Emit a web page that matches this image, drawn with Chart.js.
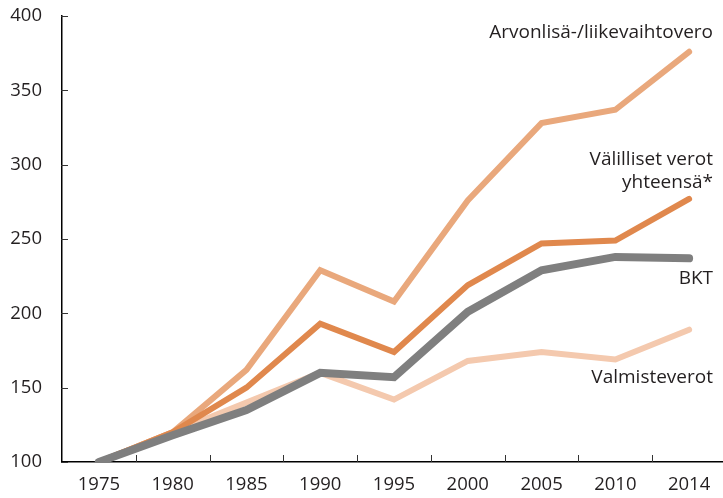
<!DOCTYPE html>
<html>
<head>
<meta charset="utf-8">
<script src="https://cdn.jsdelivr.net/npm/chart.js@4.4.0/dist/chart.umd.min.js"></script>
<style>
  html, body { margin: 0; padding: 0; background: #fff; overflow: hidden; width: 723px; height: 498px; }
  #wrap { width: 726px; height: 513px; margin-top: -15px; }
</style>
</head>
<body>
<div id="wrap"><canvas id="kaavio"></canvas></div>
<script>
// Vuodet ja indeksisarjat (1975 = 100)
const vuodet = ['1975', '1980', '1985', '1990', '1995', '2000', '2005', '2010', '2014'];
const arvonlisavero = [100, 120, 162, 229, 208, 276, 328, 337, 376];
const valillisetVerot = [100, 120, 150, 193, 174, 219, 247, 249, 277];
const bkt = [100, 118, 135, 160, 157, 201, 229, 238, 237];
const valmisteverot = [100, 120, 140, 160, 142, 168, 174, 169, 189];
const yTicks = [100, 150, 200, 250, 300, 350, 400];

const fontti = '"Open Sans", "DejaVu Sans", sans-serif';

// Sarjojen nimet piirretään viivojen viereen (y näytön koordinaateissa)
const nimet = [
    { rivit: ['Arvonlisä-/liikevaihtovero'], y: 33 },
    { rivit: ['Välilliset verot', 'yhteensä*'], y: 160 },
    { rivit: ['BKT'], y: 279 },
    { rivit: ['Valmisteverot'], y: 378 }
];

const nimiPlugin = {
    id: 'nimet',
    afterDatasetsDraw(chart) {
        const ctx = chart.ctx;
        ctx.save();
        ctx.fillStyle = '#231f20';
        ctx.font = '19px ' + fontti;
        ctx.textAlign = 'right';
        ctx.textBaseline = 'middle';
        nimet.forEach(n => {
            n.rivit.forEach((r, i) => ctx.fillText(r, 713, n.y + 15 + i * 23));
        });
        ctx.restore();
    }
};

// Akselien pienet merkit piirretään kuvaajan sisäpuolelle
const merkitPlugin = {
    id: 'merkit',
    afterDraw(chart) {
        const ctx = chart.ctx;
        const x = chart.scales.x;
        const y = chart.scales.y;
        const alue = chart.chartArea;
        ctx.save();
        ctx.strokeStyle = '#333';
        ctx.lineWidth = 1;
        yTicks.forEach(t => {
            const py = Math.round(y.getPixelForValue(t)) + 0.5;
            ctx.beginPath();
            ctx.moveTo(alue.left - 1, py);
            ctx.lineTo(alue.left + 6, py);
            ctx.stroke();
        });
        const puoli = (x.getPixelForValue(1) - x.getPixelForValue(0)) / 2;
        for (let i = 0; i < vuodet.length - 1; i++) {
            const px = Math.round(x.getPixelForValue(i) + puoli) + 0.5;
            ctx.beginPath();
            ctx.moveTo(px, alue.bottom);
            ctx.lineTo(px, alue.bottom - 7);
            ctx.stroke();
        }
        ctx.restore();
    }
};

const ctx = document.getElementById('kaavio').getContext('2d');
new Chart(ctx, {
    type: 'line',
    data: {
        labels: vuodet,
        datasets: [
            { label: 'Arvonlisä-/liikevaihtovero', data: arvonlisavero, borderColor: '#e9a87c', borderWidth: 6, order: 3 },
            { label: 'Välilliset verot yhteensä*', data: valillisetVerot, borderColor: '#e0884d', borderWidth: 6, order: 2 },
            { label: 'Valmisteverot', data: valmisteverot, borderColor: '#f4c9ae', borderWidth: 6, order: 4 },
            { label: 'BKT', data: bkt, borderColor: '#7f7f7f', borderWidth: 8, order: 1 }
        ]
    },
    options: {
        responsive: true,
        maintainAspectRatio: false,
        animation: false,
        layout: { padding: 0 },
        elements: {
            point: { radius: 0 },
            line: { tension: 0, borderCapStyle: 'round', borderJoinStyle: 'miter' }
        },
        plugins: {
            legend: { display: false },
            tooltip: { enabled: false }
        },
        scales: {
            x: {
                offset: true,
                grid: { display: false, drawTicks: false },
                border: { display: true, color: '#000', width: 1.5 },
                ticks: { color: '#231f20', font: { family: fontti, size: 18.5 }, padding: 12, maxRotation: 0, autoSkip: false },
                afterFit(s) { s.height = 36; }
            },
            y: {
                min: 100,
                max: 400,
                afterBuildTicks(s) { s.ticks = yTicks.map(v => ({ value: v })); },
                grid: { display: false, drawTicks: false },
                border: { display: true, color: '#000', width: 1.5 },
                ticks: { color: '#231f20', font: { family: fontti, size: 18.5 }, padding: 20 },
                afterFit(s) { s.width = 62; }
            }
        }
    },
    plugins: [nimiPlugin, merkitPlugin]
});
</script>
</body>
</html>
